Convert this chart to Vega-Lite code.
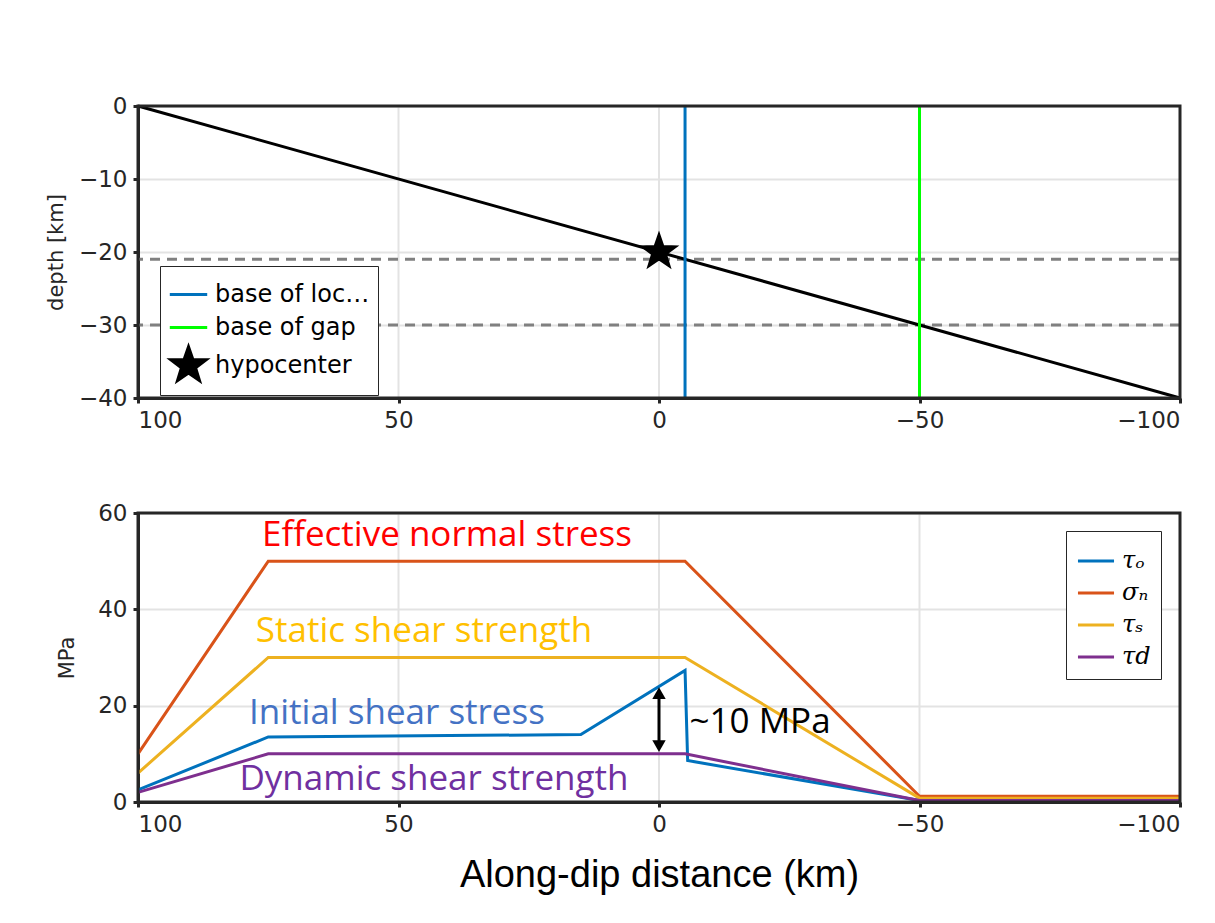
{
  "$schema": "https://vega.github.io/schema/vega-lite/v6.json",
  "autosize": {"type": "none"},
  "width": 1042,
  "height": 696,
  "padding": {"left": 138, "top": 106, "right": 35, "bottom": 121},
  "background": "white",
  "config": {
    "view": {"stroke": null},
    "axis": {
      "domainColor": "#262626", "domainWidth": 3,
      "tickColor": "#262626", "tickWidth": 3, "tickSize": 5,
      "gridColor": "#E3E3E3", "gridWidth": 2,
      "labelFont": "DejaVu Sans", "labelFontSize": 23, "labelColor": "#262626", "labelPadding": 6,
      "titleFont": "DejaVu Sans", "titleFontSize": 21, "titleFontWeight": "normal", "titleColor": "#262626"
    }
  },
  "resolve": {"scale": {"x": "independent", "y": "independent"}},
  "layer": [
    {
      "data": {"values": [{"dist": 50}, {"dist": 0}, {"dist": -50}]},
      "mark": {"type": "rule", "color": "#E3E3E3", "strokeWidth": 2},
      "encoding": {
        "x": {"field": "dist", "type": "quantitative", "scale": {"domain": [100, -100], "nice": false, "zero": false}, "axis": null},
        "y": {"datum": -40, "type": "quantitative", "scale": {"domain": [-40, 0], "range": [292, 0], "nice": false, "zero": false}, "axis": null},
        "y2": {"datum": 0}
      }
    },
    {
      "data": {"values": [{"dist": 50}, {"dist": 0}, {"dist": -50}]},
      "mark": {"type": "rule", "color": "#E3E3E3", "strokeWidth": 2},
      "encoding": {
        "x": {"field": "dist", "type": "quantitative", "scale": {"domain": [100, -100], "nice": false, "zero": false}, "axis": null},
        "y": {"datum": 0, "type": "quantitative", "scale": {"domain": [0, 60], "range": [696, 407], "nice": false, "zero": false}, "axis": null},
        "y2": {"datum": 60}
      }
    },
    {
      "data": {"values": [{"depth": -21}, {"depth": -30}]},
      "mark": {"type": "rule", "color": "#808080", "strokeWidth": 3, "strokeDash": [10, 7]},
      "encoding": {
        "y": {"field": "depth", "type": "quantitative", "scale": {"domain": [-40, 0], "range": [292, 0], "nice": false, "zero": false},
          "axis": {"orient": "left", "values": [0, -10, -20, -30, -40], "title": "depth [km]", "titlePadding": 12, "grid": true}}
      }
    },
    {
      "data": {"values": [{"dist": 100, "depth": 0}, {"dist": -100, "depth": -40}]},
      "mark": {"type": "line", "color": "black", "strokeWidth": 3},
      "encoding": {
        "x": {"field": "dist", "type": "quantitative", "scale": {"domain": [100, -100], "nice": false, "zero": false},
          "axis": {"orient": "bottom", "offset": -404, "values": [100, 50, 0, -50, -100], "title": null, "grid": false}},
        "y": {"field": "depth", "type": "quantitative", "scale": {"domain": [-40, 0], "range": [292, 0], "nice": false, "zero": false}, "axis": null}
      }
    },
    {
      "data": {"values": [{"dist": -5, "item": "base of locked zone"}, {"dist": -50, "item": "base of gap"}]},
      "mark": {"type": "rule", "strokeWidth": 3},
      "encoding": {
        "x": {"field": "dist", "type": "quantitative", "scale": {"domain": [100, -100], "nice": false, "zero": false}, "axis": null},
        "y": {"datum": -40, "type": "quantitative", "scale": {"domain": [-40, 0], "range": [292, 0], "nice": false, "zero": false}, "axis": null},
        "y2": {"datum": 0},
        "stroke": {"field": "item", "type": "nominal",
          "scale": {"domain": ["base of locked zone", "base of gap", "hypocenter"], "range": ["#0072BD", "#00FF00", "#000000"]},
          "legend": {"title": null, "orient": "none", "legendX": 22, "legendY": 160, "strokeColor": "#262626", "fillColor": "white", "padding": 8,
            "labelFont": "DejaVu Sans", "labelFontSize": 24, "labelColor": "black", "symbolSize": 1400, "symbolStrokeWidth": 3, "symbolFillColor": "black", "rowPadding": 0, "labelOffset": 6}}
      }
    },
    {
      "data": {"values": [{"dist": 0, "depth": -20, "item": "hypocenter"}]},
      "mark": {"type": "point", "filled": true, "fill": "black", "size": 1350, "opacity": 1},
      "encoding": {
        "x": {"field": "dist", "type": "quantitative", "scale": {"domain": [100, -100], "nice": false, "zero": false}, "axis": null},
        "y": {"field": "depth", "type": "quantitative", "scale": {"domain": [-40, 0], "range": [292, 0], "nice": false, "zero": false}, "axis": null},
        "stroke": {"field": "item", "type": "nominal"},
        "shape": {"field": "item", "type": "nominal",
          "scale": {"domain": ["base of locked zone", "base of gap", "hypocenter"], "range": ["stroke", "stroke", "M0,-1L0.235,-0.324L0.951,-0.309L0.38,0.124L0.588,0.809L0,0.4L-0.588,0.809L-0.38,0.124L-0.951,-0.309L-0.235,-0.324Z"]}}
      }
    },
    {
      "data": {"values": [
        {"dist": 100, "mpa": 2.5, "s": "τₒ"},
        {"dist": 75, "mpa": 13.5, "s": "τₒ"},
        {"dist": 15, "mpa": 14, "s": "τₒ"},
        {"dist": -5, "mpa": 27.3, "s": "τₒ"},
        {"dist": -5.5, "mpa": 8.6, "s": "τₒ"},
        {"dist": -50, "mpa": 0.3, "s": "τₒ"},
        {"dist": -100, "mpa": 0.3, "s": "τₒ"},
        {"dist": 100, "mpa": 10, "s": "σₙ"},
        {"dist": 75, "mpa": 50, "s": "σₙ"},
        {"dist": -5, "mpa": 50, "s": "σₙ"},
        {"dist": -50, "mpa": 1.2, "s": "σₙ"},
        {"dist": -100, "mpa": 1.2, "s": "σₙ"},
        {"dist": 100, "mpa": 6, "s": "τₛ"},
        {"dist": 75, "mpa": 30, "s": "τₛ"},
        {"dist": -5, "mpa": 30, "s": "τₛ"},
        {"dist": -50, "mpa": 0.8, "s": "τₛ"},
        {"dist": -100, "mpa": 0.8, "s": "τₛ"},
        {"dist": 100, "mpa": 2, "s": "τd"},
        {"dist": 75, "mpa": 10, "s": "τd"},
        {"dist": -5, "mpa": 10, "s": "τd"},
        {"dist": -50, "mpa": 0.3, "s": "τd"},
        {"dist": -100, "mpa": 0.3, "s": "τd"}
      ]},
      "mark": {"type": "line", "strokeWidth": 3},
      "encoding": {
        "x": {"field": "dist", "type": "quantitative", "scale": {"domain": [100, -100], "nice": false, "zero": false},
          "axis": {"orient": "bottom", "values": [100, 50, 0, -50, -100], "title": "Along-dip distance (km)", "grid": false,
            "titleFont": "Liberation Sans", "titleFontSize": 38, "titleColor": "black", "titlePadding": 20}},
        "y": {"field": "mpa", "type": "quantitative", "scale": {"domain": [0, 60], "range": [696, 407], "nice": false, "zero": false},
          "axis": {"orient": "left", "values": [0, 20, 40, 60], "title": "MPa", "titlePadding": 20, "grid": true}},
        "color": {"field": "s", "type": "nominal",
          "scale": {"domain": ["τₒ", "σₙ", "τₛ", "τd"], "range": ["#0072BD", "#D95319", "#EDB120", "#7E2F8E"]},
          "legend": {"title": null, "orient": "none", "legendX": 928, "legendY": 425, "strokeColor": "#262626", "fillColor": "white", "padding": 10,
            "labelFont": "DejaVu Serif", "labelFontStyle": "italic", "labelFontSize": 24, "labelColor": "black", "symbolType": "stroke", "symbolSize": 1300, "symbolStrokeWidth": 3, "rowPadding": 0, "labelOffset": 6}}
      }
    },
    {
      "data": {"values": [{"dist": 0}]},
      "mark": {"type": "rule", "color": "black", "strokeWidth": 3},
      "encoding": {
        "x": {"field": "dist", "type": "quantitative", "scale": {"domain": [100, -100], "nice": false, "zero": false}, "axis": null},
        "y": {"datum": 11.5, "type": "quantitative", "scale": {"domain": [0, 60], "range": [696, 407], "nice": false, "zero": false}, "axis": null},
        "y2": {"datum": 23}
      }
    },
    {
      "data": {"values": [{"dist": 0, "mpa": 22.6}]},
      "mark": {"type": "point", "shape": "triangle-up", "filled": true, "color": "black", "size": 180, "opacity": 1},
      "encoding": {
        "x": {"field": "dist", "type": "quantitative", "scale": {"domain": [100, -100], "nice": false, "zero": false}, "axis": null},
        "y": {"field": "mpa", "type": "quantitative", "scale": {"domain": [0, 60], "range": [696, 407], "nice": false, "zero": false}, "axis": null}
      }
    },
    {
      "data": {"values": [{"dist": 0, "mpa": 11.6}]},
      "mark": {"type": "point", "shape": "triangle-down", "filled": true, "color": "black", "size": 180, "opacity": 1},
      "encoding": {
        "x": {"field": "dist", "type": "quantitative", "scale": {"domain": [100, -100], "nice": false, "zero": false}, "axis": null},
        "y": {"field": "mpa", "type": "quantitative", "scale": {"domain": [0, 60], "range": [696, 407], "nice": false, "zero": false}, "axis": null}
      }
    },
    {
      "data": {"values": [{"dist": 40.7, "mpa": 55.4, "label": "Effective normal stress"}]},
      "mark": {"type": "text", "color": "#FF0000", "font": "Open Sans", "fontSize": 35, "align": "center", "baseline": "middle"},
      "encoding": {
        "x": {"field": "dist", "type": "quantitative", "scale": {"domain": [100, -100], "nice": false, "zero": false}, "axis": null},
        "y": {"field": "mpa", "type": "quantitative", "scale": {"domain": [0, 60], "range": [696, 407], "nice": false, "zero": false}, "axis": null},
        "text": {"field": "label"}
      }
    },
    {
      "data": {"values": [{"dist": 45.1, "mpa": 35.5, "label": "Static shear strength"}]},
      "mark": {"type": "text", "color": "#FFC000", "font": "Open Sans", "fontSize": 35, "align": "center", "baseline": "middle"},
      "encoding": {
        "x": {"field": "dist", "type": "quantitative", "scale": {"domain": [100, -100], "nice": false, "zero": false}, "axis": null},
        "y": {"field": "mpa", "type": "quantitative", "scale": {"domain": [0, 60], "range": [696, 407], "nice": false, "zero": false}, "axis": null},
        "text": {"field": "label"}
      }
    },
    {
      "data": {"values": [{"dist": 50.3, "mpa": 18.5, "label": "Initial shear stress"}]},
      "mark": {"type": "text", "color": "#4472C4", "font": "Open Sans", "fontSize": 35, "align": "center", "baseline": "middle"},
      "encoding": {
        "x": {"field": "dist", "type": "quantitative", "scale": {"domain": [100, -100], "nice": false, "zero": false}, "axis": null},
        "y": {"field": "mpa", "type": "quantitative", "scale": {"domain": [0, 60], "range": [696, 407], "nice": false, "zero": false}, "axis": null},
        "text": {"field": "label"}
      }
    },
    {
      "data": {"values": [{"dist": 43.2, "mpa": 4.8, "label": "Dynamic shear strength"}]},
      "mark": {"type": "text", "color": "#7030A0", "font": "Open Sans", "fontSize": 35, "align": "center", "baseline": "middle"},
      "encoding": {
        "x": {"field": "dist", "type": "quantitative", "scale": {"domain": [100, -100], "nice": false, "zero": false}, "axis": null},
        "y": {"field": "mpa", "type": "quantitative", "scale": {"domain": [0, 60], "range": [696, 407], "nice": false, "zero": false}, "axis": null},
        "text": {"field": "label"}
      }
    },
    {
      "data": {"values": [{"dist": -19.4, "mpa": 16.6, "label": "~10 MPa"}]},
      "mark": {"type": "text", "color": "black", "font": "Open Sans", "fontSize": 35, "align": "center", "baseline": "middle"},
      "encoding": {
        "x": {"field": "dist", "type": "quantitative", "scale": {"domain": [100, -100], "nice": false, "zero": false}, "axis": null},
        "y": {"field": "mpa", "type": "quantitative", "scale": {"domain": [0, 60], "range": [696, 407], "nice": false, "zero": false}, "axis": null},
        "text": {"field": "label"}
      }
    },
    {
      "data": {"values": [{"panel": "depth"}]},
      "mark": {"type": "rect", "fillOpacity": 0, "stroke": "#262626", "strokeWidth": 3},
      "encoding": {
        "x": {"datum": 100, "type": "quantitative", "scale": {"domain": [100, -100], "nice": false, "zero": false}, "axis": null},
        "x2": {"datum": -100},
        "y": {"datum": -40, "type": "quantitative", "scale": {"domain": [-40, 0], "range": [292, 0], "nice": false, "zero": false}, "axis": null},
        "y2": {"datum": 0}
      }
    },
    {
      "data": {"values": [{"panel": "stress"}]},
      "mark": {"type": "rect", "fillOpacity": 0, "stroke": "#262626", "strokeWidth": 3},
      "encoding": {
        "x": {"datum": 100, "type": "quantitative", "scale": {"domain": [100, -100], "nice": false, "zero": false}, "axis": null},
        "x2": {"datum": -100},
        "y": {"datum": 0, "type": "quantitative", "scale": {"domain": [0, 60], "range": [696, 407], "nice": false, "zero": false}, "axis": null},
        "y2": {"datum": 60}
      }
    }
  ]
}
